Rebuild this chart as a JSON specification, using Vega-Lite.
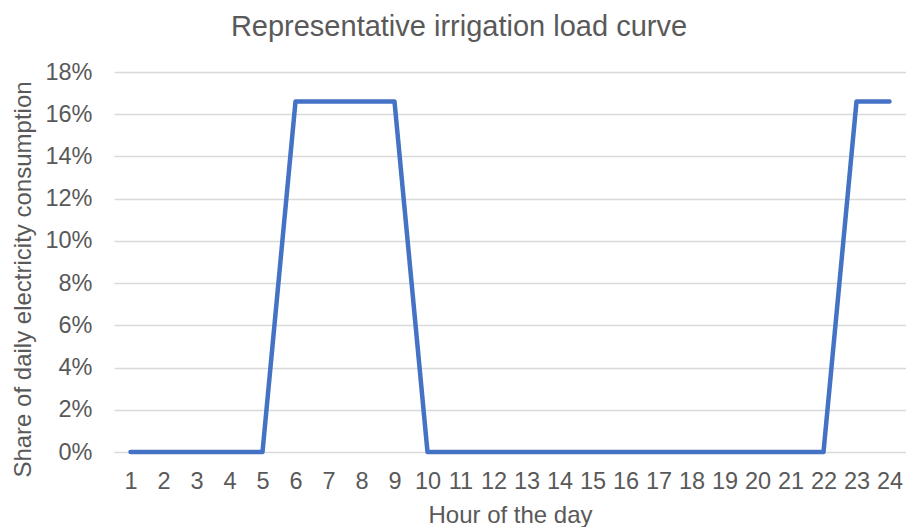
{
  "$schema": "https://vega.github.io/schema/vega-lite/v6.json",
  "width": 792,
  "height": 380,
  "autosize": "none",
  "padding": {"left": 114, "top": 72, "right": 0, "bottom": 75},
  "background": "white",
  "title": {
    "text": "Representative irrigation load curve",
    "font": "Liberation Sans",
    "fontSize": 29,
    "fontWeight": "normal",
    "color": "#595959",
    "anchor": "middle",
    "frame": "bounds",
    "baseline": "alphabetic",
    "offset": -5
  },
  "config": {
    "view": {"stroke": null},
    "axis": {
      "labelFont": "Liberation Sans",
      "titleFont": "Liberation Sans",
      "labelColor": "#595959",
      "titleColor": "#595959",
      "titleFontWeight": "normal",
      "gridColor": "#d9d9d9",
      "gridWidth": 1.5
    }
  },
  "data": {
    "values": [
      {"hour": 1, "share": 0},
      {"hour": 2, "share": 0},
      {"hour": 3, "share": 0},
      {"hour": 4, "share": 0},
      {"hour": 5, "share": 0},
      {"hour": 6, "share": 0.166},
      {"hour": 7, "share": 0.166},
      {"hour": 8, "share": 0.166},
      {"hour": 9, "share": 0.166},
      {"hour": 10, "share": 0},
      {"hour": 11, "share": 0},
      {"hour": 12, "share": 0},
      {"hour": 13, "share": 0},
      {"hour": 14, "share": 0},
      {"hour": 15, "share": 0},
      {"hour": 16, "share": 0},
      {"hour": 17, "share": 0},
      {"hour": 18, "share": 0},
      {"hour": 19, "share": 0},
      {"hour": 20, "share": 0},
      {"hour": 21, "share": 0},
      {"hour": 22, "share": 0},
      {"hour": 23, "share": 0.166},
      {"hour": 24, "share": 0.166}
    ]
  },
  "mark": {"type": "line", "color": "#4472C4", "strokeWidth": 4.5, "strokeJoin": "round", "strokeCap": "round"},
  "encoding": {
    "x": {
      "field": "hour",
      "type": "ordinal",
      "sort": "ascending",
      "scale": {"type": "point", "padding": 0.5},
      "axis": {
        "title": "Hour of the day",
        "labelAngle": 0,
        "labelFontSize": 23.5,
        "titleFontSize": 24,
        "ticks": false,
        "domain": false,
        "labelPadding": 17,
        "titlePadding": 11,
        "grid": false
      }
    },
    "y": {
      "field": "share",
      "type": "quantitative",
      "scale": {"domain": [0, 0.18]},
      "axis": {
        "title": "Share of daily electricity consumption",
        "format": ".0%",
        "values": [0, 0.02, 0.04, 0.06, 0.08, 0.1, 0.12, 0.14, 0.16, 0.18],
        "labelFontSize": 23.5,
        "titleFontSize": 24,
        "ticks": false,
        "domain": false,
        "labelPadding": 22,
        "titlePadding": 9,
        "titleY": 207
      }
    }
  }
}
